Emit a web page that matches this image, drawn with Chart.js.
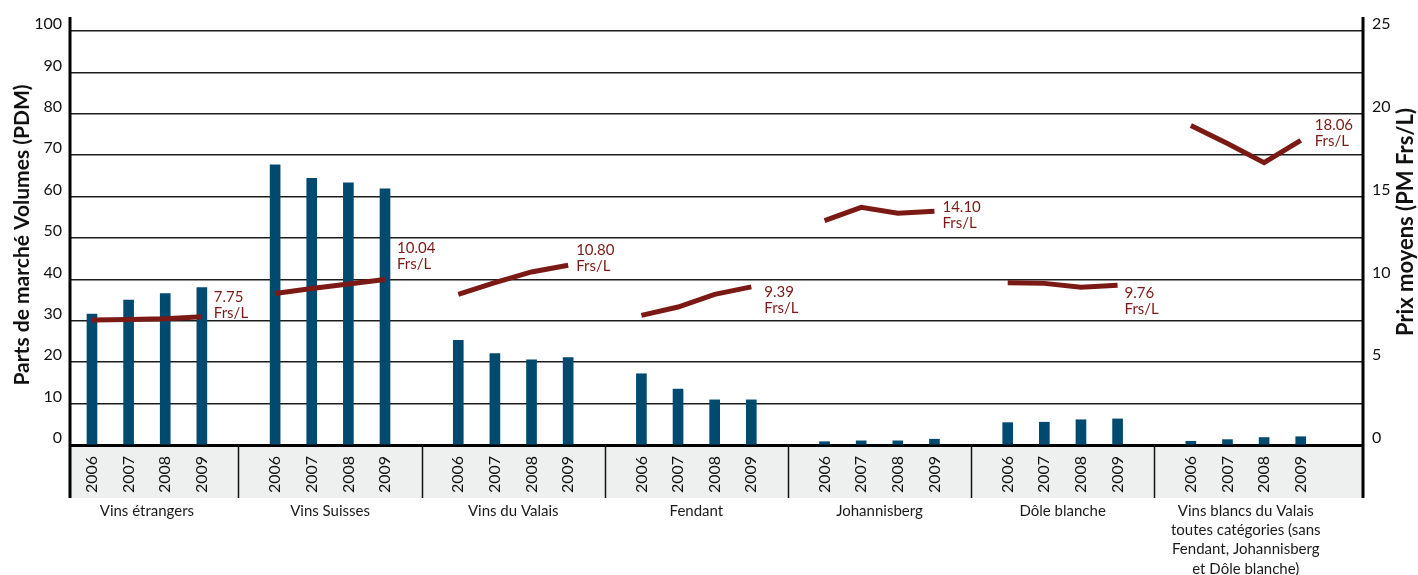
<!DOCTYPE html>
<html><head><meta charset="utf-8">
<script src="https://cdn.jsdelivr.net/npm/chart.js@4.4.1/dist/chart.umd.min.js"></script>
<style>html,body{margin:0;padding:0;background:#fff}#wrap{width:1418px;height:575px;position:relative}</style>
</head><body><div id="wrap"><canvas id="c" width="1418" height="575"></canvas></div>
<script>
// ---- data ----
const groups = ['Vins étrangers', 'Vins Suisses', 'Vins du Valais', 'Fendant', 'Johannisberg', 'Dôle blanche',
  ['Vins blancs du Valais', 'toutes catégories (sans', 'Fendant, Johannisberg', 'et Dôle blanche)']];
const years = ['2006', '2007', '2008', '2009'];

const volEtrangers    = [31.6, 35.0, 36.6, 38.0];
const volSuisses      = [67.7, 64.4, 63.3, 61.9];
const volValais       = [25.3, 22.1, 20.6, 21.1];
const volFendant      = [17.2, 13.5, 10.9, 10.9];
const volJohannisberg = [0.8, 1.0, 1.0, 1.4];
const volDole         = [5.4, 5.5, 6.1, 6.3];
const volAutres       = [0.9, 1.3, 1.8, 2.0];

const prixEtrangers    = [7.55, 7.58, 7.63, 7.75];
const prixSuisses      = [9.15, 9.45, 9.72, 10.0];
const prixValais       = [9.1, 9.8, 10.45, 10.85];
const prixFendant      = [7.83, 8.33, 9.1, 9.55];
const prixJohannisberg = [13.55, 14.35, 14.0, 14.12];
const prixDole         = [9.8, 9.76, 9.52, 9.65];
const prixAutres       = [19.3, 18.2, 17.05, 18.4];

const prixLabels = ['7.75', '10.04', '10.80', '9.39', '14.10', '9.76', '18.06'];
const leftTickStep = 10, leftMax = 100;
const rightTickStep = 5, rightMax = 25;

// ---- build ----
const volumeSeries = [volEtrangers, volSuisses, volValais, volFendant, volJohannisberg, volDole, volAutres];
const prixSeries = [prixEtrangers, prixSuisses, prixValais, prixFendant, prixJohannisberg, prixDole, prixAutres];
const SLOTS = years.length + 1;
const slot = (g, i) => g * SLOTS + i;
const barIdx = [];
const barData = [];
volumeSeries.forEach((arr, g) => arr.forEach((v, i) => { barIdx.push(slot(g, i)); barData.push({x: slot(g, i), y: v}); }));

const RED = '#7b1a15';
const BLUE = '#004a6f';
const FONT = 'Lato, "Open Sans", sans-serif';

const lineSets = prixSeries.map((arr, g) => ({
  type: 'line', data: arr.map((v, i) => ({x: slot(g, i), y: v})), yAxisID: 'y1', xAxisID: 'x',
  borderColor: RED, borderWidth: 5, pointRadius: 0, tension: 0, borderJoinStyle: 'miter', borderCapStyle: 'butt', order: 1
}));

// label placement relative to last point (dx, dy)
const labelOffsets = [[12, -20], [12, -31], [8, -15], [13, 5], [8, -4], [7, 8], [14, -15]];

const decor = {
  id: 'decor',
  beforeDraw(chart) {
    const {ctx, chartArea: a} = chart;
    ctx.save();
    ctx.fillStyle = '#eef0ef';
    ctx.fillRect(a.left, a.bottom + 1, a.right - a.left, 52);
    ctx.restore();
  },
  afterDraw(chart) {
    const {ctx, chartArea: a, scales} = chart;
    const x = scales.x;
    ctx.save();
    // separators in band
    ctx.strokeStyle = '#111'; ctx.lineWidth = 1.5;
    for (let g = 1; g < groups.length; g++) {
      const px = Math.round(x.getPixelForValue(slot(g, 0) - 1)) + 0.5;
      ctx.beginPath(); ctx.moveTo(px, a.bottom); ctx.lineTo(px, a.bottom + 53); ctx.stroke();
    }
    // vertical axis lines
    ctx.strokeStyle = '#000'; ctx.lineWidth = 3;
    [a.left, a.right].forEach(px => { ctx.beginPath(); ctx.moveTo(px, a.top - 14); ctx.lineTo(px, a.bottom + 53); ctx.stroke(); });
    // group labels
    ctx.fillStyle = '#1a1a1a'; ctx.font = '15px ' + FONT; ctx.textAlign = 'center'; ctx.textBaseline = 'middle';
    groups.forEach((lab, g) => {
      const cx = x.getPixelForValue(slot(g, (years.length - 1) / 2));
      const lines = Array.isArray(lab) ? lab : [lab];
      lines.forEach((t, k) => ctx.fillText(t, cx, a.bottom + 66 + k * 19.3));
    });
    // price labels
    ctx.fillStyle = RED; ctx.textAlign = 'left'; ctx.font = '15px ' + FONT;
    chart.data.datasets.forEach((ds, di) => {
      if (ds.type !== 'line') return;
      const g = di - 1;
      const meta = chart.getDatasetMeta(di);
      const p = meta.data[meta.data.length - 1];
      const [dx, dy] = labelOffsets[g];
      ctx.fillText(prixLabels[g], p.x + dx, p.y + dy);
      ctx.fillText('Frs/L', p.x + dx, p.y + dy + 16);
    });
    // axis titles
    ctx.fillStyle = '#111'; ctx.font = 'bold 21px ' + FONT; ctx.textAlign = 'center';
    ctx.translate(22, 235); ctx.rotate(-Math.PI / 2);
    ctx.fillText('Parts de marché Volumes (PDM)', 0, 0);
    ctx.setTransform(1, 0, 0, 1, 0, 0);
    ctx.font = 'bold 22px ' + FONT;
    ctx.translate(1406, 222); ctx.rotate(-Math.PI / 2);
    ctx.fillText('Prix moyens (PM Frs/L)', 0, 0);
    ctx.restore();
  }
};

new Chart(document.getElementById('c'), {
  type: 'bar',
  data: {
    datasets: [{type: 'bar', data: barData, backgroundColor: BLUE, barThickness: 10, yAxisID: 'y', xAxisID: 'x', order: 2}, ...lineSets]
  },
  options: {
    responsive: false, animation: false, devicePixelRatio: 1,
    layout: {padding: {top: 31, left: 0, right: 0, bottom: 0}},
    plugins: {legend: {display: false}, tooltip: {enabled: false}},
    scales: {
      x: {
        type: 'linear', min: -0.6, max: 34.7, position: 'bottom', offset: false,
        grid: {display: false, drawTicks: false, offset: false},
        border: {display: true, color: '#000', width: 3},
        afterBuildTicks: s => { s.ticks = barIdx.map(v => ({value: v})); },
        ticks: {autoSkip: false, minRotation: 90, maxRotation: 90, padding: 11, color: '#111',
          font: {size: 16, family: FONT}, callback: v => years[v % SLOTS]},
        afterFit: s => { s.height = 130; }
      },
      y: {
        position: 'left', min: 0, max: leftMax,
        ticks: {stepSize: leftTickStep, labelOffset: -7, padding: 8, color: '#111', font: {size: 16, family: FONT}},
        grid: {color: '#1c1c1c', lineWidth: 1.5, drawTicks: false},
        border: {display: false},
        afterFit: s => { s.width = 70; }
      },
      y1: {
        position: 'right', min: 0, max: rightMax,
        ticks: {stepSize: rightTickStep, labelOffset: -7, padding: 9, color: '#111', font: {size: 16, family: FONT}},
        grid: {display: false, drawTicks: false},
        border: {display: false},
        afterFit: s => { s.width = 55; }
      }
    }
  },
  plugins: [decor]
});
</script>
</body></html>
